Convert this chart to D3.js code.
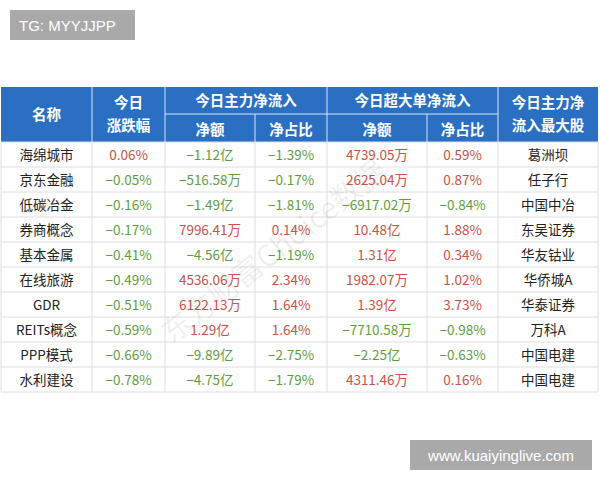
<!DOCTYPE html>
<html><head><meta charset="utf-8">
<script src="https://cdn.jsdelivr.net/npm/d3@7"></script>
<style>body{margin:0;background:#fff}</style>
</head><body>
<svg id="chart" width="600" height="480"></svg>
<script>
const names = ["海绵城市","京东金融","低碳冶金","券商概念","基本金属","在线旅游","GDR","REITs概念","PPP模式","水利建设"];
const change = ["0.06%","−0.05%","−0.16%","−0.17%","−0.41%","−0.49%","−0.51%","−0.59%","−0.66%","−0.78%"];
const mainNet = ["−1.12亿","−516.58万","−1.49亿","7996.41万","−4.56亿","4536.06万","6122.13万","1.29亿","−9.89亿","−4.75亿"];
const mainPct = ["−1.39%","−0.17%","−1.81%","0.14%","−1.19%","2.34%","1.64%","1.64%","−2.75%","−1.79%"];
const superNet = ["4739.05万","2625.04万","−6917.02万","10.48亿","1.31亿","1982.07万","1.39亿","−7710.58万","−2.25亿","4311.46万"];
const superPct = ["0.59%","0.87%","−0.84%","1.88%","0.34%","1.02%","3.73%","−0.98%","−0.63%","0.16%"];
const topStock = ["葛洲坝","任子行","中国中冶","东吴证券","华友钴业","华侨城A","华泰证券","万科A","中国电建","中国电建"];

const colEdges = [1, 92, 165, 255, 327, 427, 498, 598];
const font = "'Noto Sans CJK SC', 'Liberation Sans', sans-serif";
const svg = d3.select("#chart");

const y = d3.scaleLinear().domain([0, 10]).range([142, 392]);
const rowH = y(1) - y(0);
const headTop = 87, headMid = 114;

// watermark tag
svg.append("rect").attr("x", 10).attr("y", 10).attr("width", 125).attr("height", 30).attr("fill", "#a9a9a9");
svg.append("text").attr("x", 19).attr("y", 31).attr("fill", "#fff").attr("font-size", 15)
  .attr("font-family", "'Liberation Sans', sans-serif").text("TG: MYYJJPP");

// header
svg.append("rect").attr("x", colEdges[0]).attr("y", headTop).attr("width", colEdges[7] - colEdges[0])
  .attr("height", y(0) - headTop).attr("fill", "#2b6fc2");
const hLines = svg.append("g").attr("stroke", "#d9e4f2").attr("stroke-width", 1);
colEdges.slice(1, 7).forEach((cx, i) => {
  const spanned = i === 2 || i === 4;
  hLines.append("line").attr("x1", cx).attr("x2", cx).attr("y1", spanned ? headMid : headTop).attr("y2", y(0));
});
hLines.append("line").attr("x1", colEdges[2]).attr("x2", colEdges[6]).attr("y1", headMid).attr("y2", headMid);

const ht = svg.append("g").attr("fill", "#fff").attr("font-size", 14.5).attr("font-weight", "bold")
  .attr("font-family", font).attr("text-anchor", "middle");
const mid = i => (colEdges[i] + colEdges[i + 1]) / 2;
ht.append("text").attr("x", mid(0)).attr("y", 120).text("名称");
ht.append("text").attr("x", mid(1)).attr("y", 108).text("今日");
ht.append("text").attr("x", mid(1)).attr("y", 131).text("涨跌幅");
ht.append("text").attr("x", (colEdges[2] + colEdges[4]) / 2).attr("y", 106).text("今日主力净流入");
ht.append("text").attr("x", (colEdges[4] + colEdges[6]) / 2).attr("y", 106).text("今日超大单净流入");
ht.append("text").attr("x", mid(2)).attr("y", 135).text("净额");
ht.append("text").attr("x", mid(3)).attr("y", 135).text("净占比");
ht.append("text").attr("x", mid(4)).attr("y", 135).text("净额");
ht.append("text").attr("x", mid(5)).attr("y", 135).text("净占比");
ht.append("text").attr("x", mid(6)).attr("y", 108).text("今日主力净");
ht.append("text").attr("x", mid(6)).attr("y", 131).text("流入最大股");

// body grid
const grid = svg.append("g").attr("stroke", "#dedede").attr("stroke-width", 1);
d3.range(11).forEach(i => grid.append("line").attr("x1", colEdges[0]).attr("x2", colEdges[7]).attr("y1", y(i)).attr("y2", y(i)));
colEdges.forEach(cx => grid.append("line").attr("x1", cx).attr("x2", cx).attr("y1", y(0)).attr("y2", y(10)));

// watermark
svg.append("text").attr("transform", "translate(280,260) rotate(-38)").attr("text-anchor", "middle")
  .attr("font-size", 30).attr("font-family", font).attr("fill", "#000").attr("fill-opacity", 0.07)
  .text("东方财富Choice数据");

const cols = [names, change, mainNet, mainPct, superNet, superPct, topStock];
const colour = v => v.startsWith("−") ? "#5f9e3f" : "#c9524a";
const body = svg.append("g").attr("font-size", 13.5).attr("font-family", font).attr("text-anchor", "middle");
cols.forEach((arr, c) => {
  body.selectAll(null).data(arr).join("text")
    .attr("x", mid(c))
    .attr("y", (d, i) => y(i) + rowH / 2 + 5)
    .attr("fill", d => (c === 0 || c === 6) ? "#222" : colour(d))
    .text(d => d);
});

svg.append("rect").attr("x", 410).attr("y", 440).attr("width", 182).attr("height", 30).attr("fill", "#a9a9a9");
svg.append("text").attr("x", 501).attr("y", 461).attr("text-anchor", "middle").attr("fill", "#fff").attr("font-size", 15)
  .attr("font-family", "'Liberation Sans', sans-serif").text("www.kuaiyinglive.com");
</script>
</body></html>
